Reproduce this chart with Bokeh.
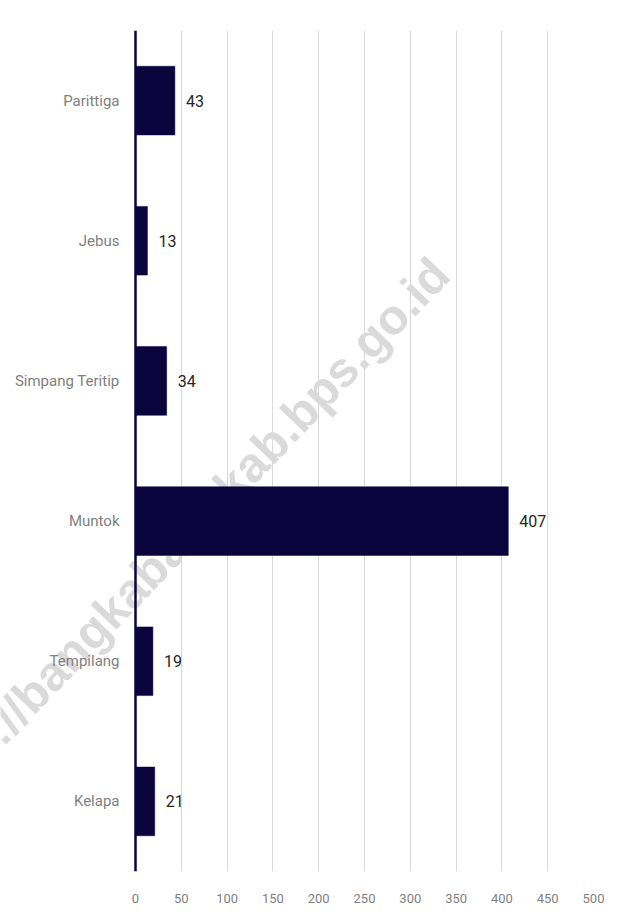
from bokeh.plotting import figure
from bokeh.models import FactorRange, Range1d, FixedTicker, Label, Span, ColumnDataSource
from bokeh.core.properties import value
from bokeh.embed import file_html
from bokeh.resources import INLINE

# ---- data ----
categories = ["Parittiga", "Jebus", "Simpang Teritip", "Muntok", "Tempilang", "Kelapa"]
counts = [43, 13, 34, 407, 19, 21]
x_ticks = [0, 50, 100, 150, 200, 250, 300, 350, 400, 450, 500]
watermark = "https://bangkabaratkab.bps.go.id"

FONT = "Roboto"
BAR = "#0b033c"
GRAY = "#7f7f7f"

W, H = 610, 912
LEFT_PAD, RIGHT_PAD = 135, 17            # pixels left of the value axis zero / right of 500
px_per_unit = (W - LEFT_PAD - RIGHT_PAD) / (x_ticks[-1] - x_ticks[0])
x_start = x_ticks[0] - LEFT_PAD / px_per_unit

src = ColumnDataSource(dict(cat=categories, n=counts, lbl=[str(v) for v in counts]))

p = figure(width=W, height=H, output_backend="svg", toolbar_location=None,
           y_range=FactorRange(factors=categories[::-1]),
           x_range=Range1d(x_start, x_ticks[-1]),
           min_border_left=0, min_border_right=RIGHT_PAD,
           min_border_top=30, min_border_bottom=41)
p.outline_line_color = None
p.background_fill_color = "white"
p.border_fill_color = "white"

# watermark (under the bars and labels)
wm = Label(x=42.3, y=2.334, text=watermark, angle=46.3, angle_units="deg",
           text_align="center", text_baseline="middle",
           text_font="Liberation Sans", text_font_style="bold",
           text_font_size="49px", text_color="#dadada", level="underlay")
p.add_layout(wm)

p.hbar(y="cat", right="n", left=0, height=0.49, source=src,
       fill_color=BAR, line_color=BAR, line_width=0.5)

# value labels
p.text(x="n", y="cat", text="lbl", source=src, x_offset=11,
       text_align="left", text_baseline="middle",
       text_font=value(FONT), text_font_size="16px", text_color="#262626")

# category labels
p.text(x=0, y="cat", text="cat", source=src, x_offset=-16,
       text_align="right", text_baseline="middle",
       text_font=value(FONT), text_font_size="15px", text_color=GRAY)

# vertical category axis line at zero
p.add_layout(Span(location=0, dimension="height", line_color=BAR, line_width=2.5))

p.yaxis.visible = False

p.xaxis.ticker = FixedTicker(ticks=x_ticks)
p.xaxis.axis_line_color = None
p.xaxis.major_tick_line_color = None
p.xaxis.minor_tick_line_color = None
p.xaxis.major_label_text_color = GRAY
p.xaxis.major_label_text_font = FONT
p.xaxis.major_label_text_font_size = "13px"
p.xaxis.major_label_standoff = 16

p.xgrid.ticker = FixedTicker(ticks=x_ticks)
p.xgrid.grid_line_color = "#d9d9d9"
p.xgrid.grid_line_width = 1
p.ygrid.grid_line_color = None

open("out.html", "w").write(file_html(p, INLINE))
